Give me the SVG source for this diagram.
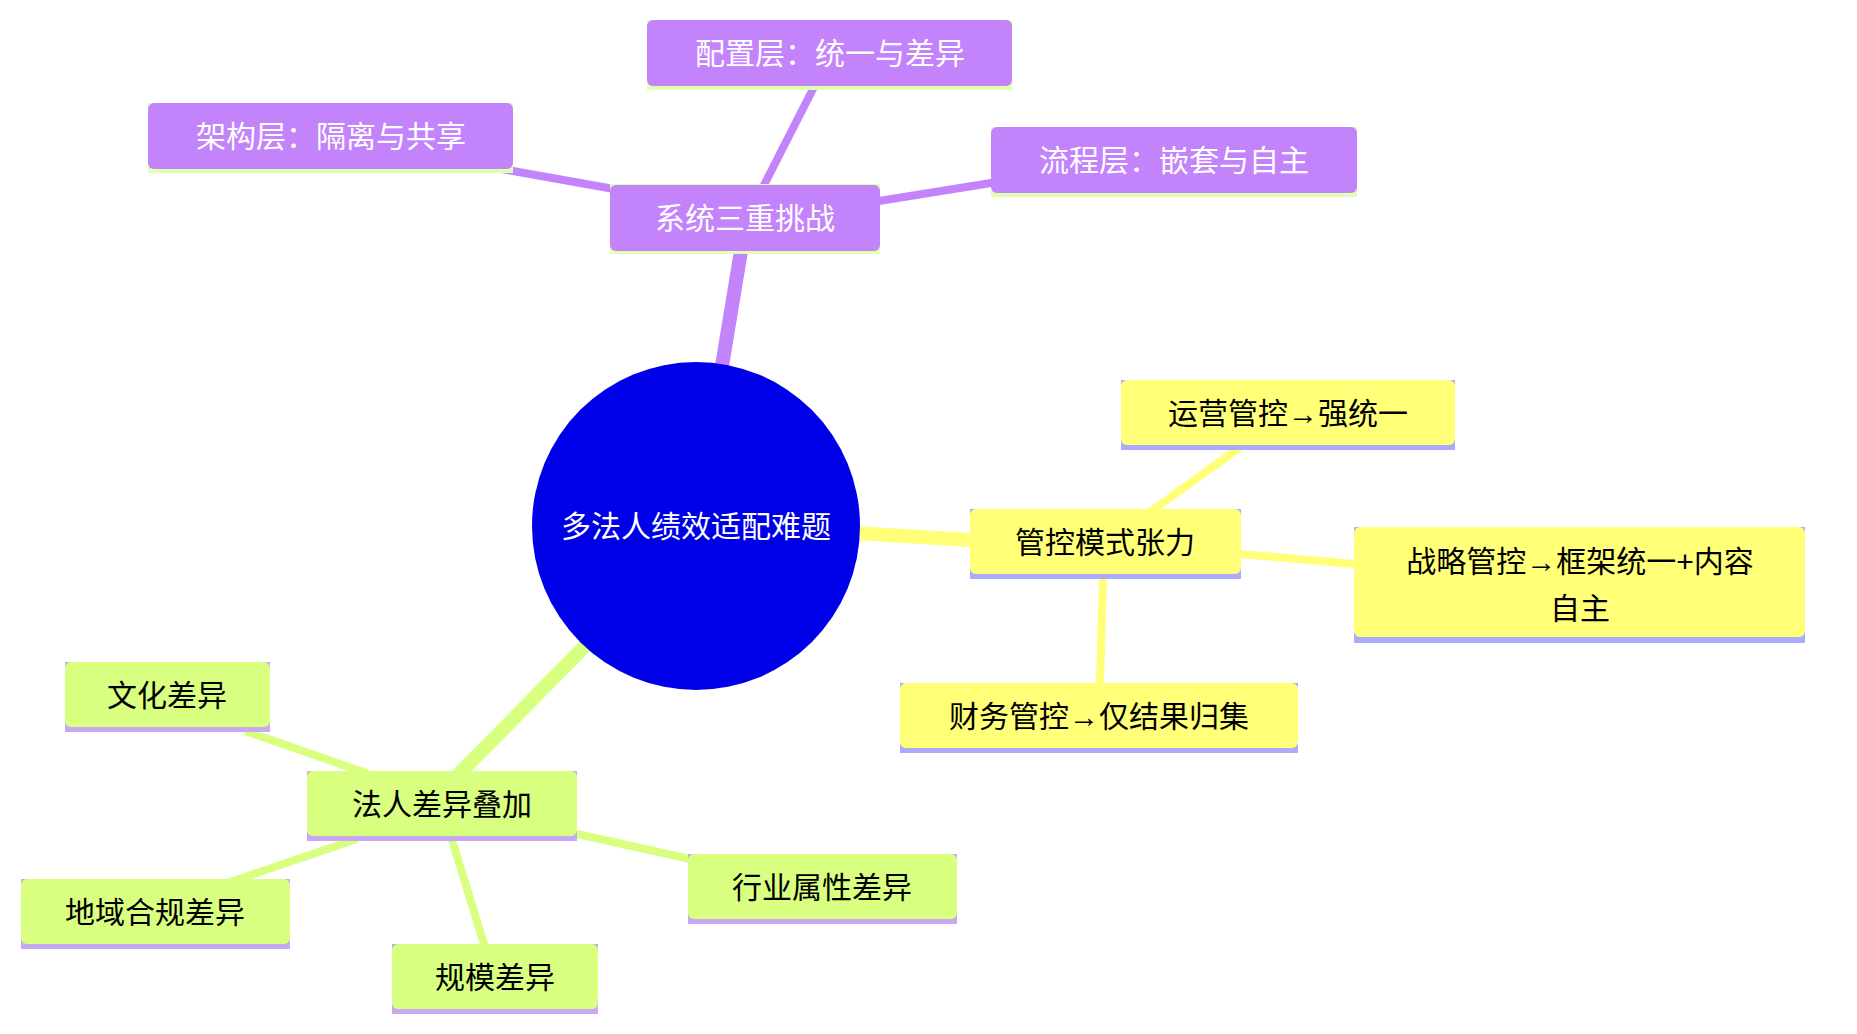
<svg xmlns="http://www.w3.org/2000/svg" width="1857" height="1034" viewBox="0 0 1857 1034">
<style>
text{font-family:"Liberation Sans","Noto Sans CJK SC",sans-serif;font-size:30px;text-anchor:middle;dominant-baseline:central}
.p rect.b{fill:#c384fb}.p rect.u{fill:#e0ffb0}.p text{fill:#fff}
.y rect.b{fill:#ffff78}.y rect.u{fill:#aaaaff}.y text{fill:#000}
.g rect.b{fill:#d9ff80}.g rect.u{fill:#c8a8f0}.g text{fill:#000}
.ep{stroke:#c384fb;fill:none;stroke-linecap:round}
.ey{stroke:#ffff78;fill:none;stroke-linecap:round}
.eg{stroke:#d9ff80;fill:none;stroke-linecap:round}
</style>
<rect width="1857" height="1034" fill="#fff"/>
<g id="connectors">
<line class="ep" x1="722" y1="366" x2="741" y2="251" stroke-width="14"/>
<line class="ey" x1="855" y1="533" x2="970" y2="540" stroke-width="14"/>
<line class="eg" x1="584" y1="647" x2="460" y2="773" stroke-width="14"/>
<line class="ep" x1="763" y1="187" x2="814" y2="87" stroke-width="8"/>
<line class="ep" x1="614" y1="189" x2="496" y2="168" stroke-width="8"/>
<line class="ep" x1="879" y1="201" x2="991" y2="183" stroke-width="8"/>
<line class="ey" x1="1150" y1="512" x2="1239" y2="448" stroke-width="8"/>
<line class="ey" x1="1241" y1="554" x2="1354" y2="564" stroke-width="8"/>
<line class="ey" x1="1103" y1="578" x2="1100" y2="684" stroke-width="8"/>
<line class="eg" x1="366" y1="773" x2="248" y2="732" stroke-width="8"/>
<line class="eg" x1="354" y1="840" x2="230" y2="882" stroke-width="8"/>
<line class="eg" x1="452" y1="840" x2="484" y2="944" stroke-width="8"/>
<line class="eg" x1="577" y1="834" x2="690" y2="859" stroke-width="8"/>
</g>
<g id="root"><circle cx="696" cy="526" r="164" fill="#0000e8"/><text x="696" y="526" fill="#fff">多法人绩效适配难题</text></g>
<g id="n1" class="p"><rect class="u" x="610" y="184" width="270" height="70"/><rect class="b" x="610" y="185" width="270" height="66" rx="6"/><text x="745" y="218">系统三重挑战</text></g>
<g id="n1a" class="p"><rect class="u" x="647" y="20" width="365" height="70"/><rect class="b" x="647" y="20" width="365" height="66" rx="6"/><text x="830" y="53">配置层：统一与差异</text></g>
<g id="n1b" class="p"><rect class="u" x="148" y="103" width="365" height="70"/><rect class="b" x="148" y="103" width="365" height="66" rx="6"/><text x="331" y="136">架构层：隔离与共享</text></g>
<g id="n1c" class="p"><rect class="u" x="991" y="127" width="366" height="70"/><rect class="b" x="991" y="127" width="366" height="66" rx="6"/><text x="1174" y="160">流程层：嵌套与自主</text></g>
<g id="n2" class="y"><rect class="u" x="970" y="509" width="271" height="70"/><rect class="b" x="970" y="509" width="271" height="65" rx="6"/><text x="1105" y="542">管控模式张力</text></g>
<g id="n2a" class="y"><rect class="u" x="1121" y="380" width="334" height="70"/><rect class="b" x="1121" y="380" width="334" height="65" rx="6"/><text x="1288" y="413">运营管控→强统一</text></g>
<g id="n2b" class="y"><rect class="u" x="1354" y="527" width="451" height="116"/><rect class="b" x="1354" y="527" width="451" height="110" rx="6"/><text x="1580" y="561">战略管控→框架统一+内容</text><text x="1580" y="608">自主</text></g>
<g id="n2c" class="y"><rect class="u" x="900" y="683" width="398" height="70"/><rect class="b" x="900" y="683" width="398" height="65" rx="6"/><text x="1099" y="716">财务管控→仅结果归集</text></g>
<g id="n3" class="g"><rect class="u" x="307" y="771" width="270" height="70"/><rect class="b" x="307" y="771" width="270" height="65" rx="6"/><text x="442" y="804">法人差异叠加</text></g>
<g id="n3a" class="g"><rect class="u" x="65" y="662" width="205" height="70"/><rect class="b" x="65" y="662" width="205" height="65" rx="6"/><text x="167" y="695">文化差异</text></g>
<g id="n3b" class="g"><rect class="u" x="21" y="879" width="269" height="70"/><rect class="b" x="21" y="879" width="269" height="65" rx="6"/><text x="155" y="912">地域合规差异</text></g>
<g id="n3c" class="g"><rect class="u" x="392" y="944" width="206" height="70"/><rect class="b" x="392" y="944" width="206" height="65" rx="6"/><text x="495" y="977">规模差异</text></g>
<g id="n3d" class="g"><rect class="u" x="688" y="854" width="269" height="70"/><rect class="b" x="688" y="854" width="269" height="65" rx="6"/><text x="822" y="887">行业属性差异</text></g>
</svg>
